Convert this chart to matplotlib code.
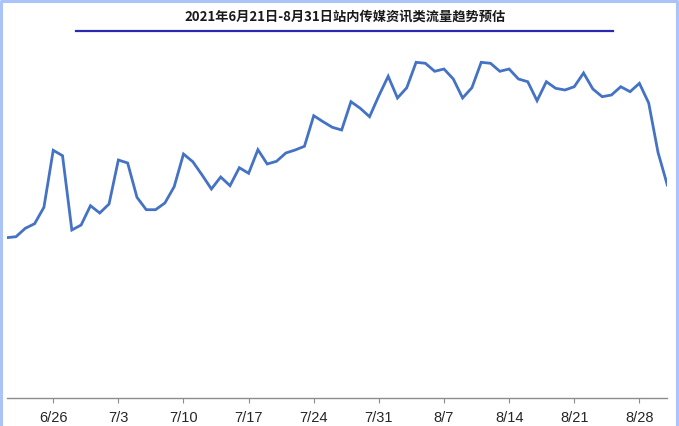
import pandas as pd
import matplotlib.pyplot as plt
from matplotlib.lines import Line2D

plt.rcParams['font.family'] = ['Liberation Sans', 'DejaVu Sans']

# daily traffic estimate, 6/21 .. 8/31 (arbitrary units)
dates = pd.date_range("2021-06-21", "2021-08-31", freq="D")
traffic = [
    160.3, 161.3, 169.7, 174.3, 190.7, 247.7, 242.3, 168.0, 173.0, 192.3,
    185.0, 194.0, 238.0, 235.0, 200.7, 188.3, 188.3, 195.0, 211.3, 244.0,
    236.3, 223.0, 209.0, 221.0, 212.3, 230.3, 224.7, 248.3, 234.0, 236.7,
    245.0, 248.0, 251.7, 282.3, 276.3, 270.7, 268.0, 296.3, 289.7, 281.3,
    302.3, 321.7, 300.0, 310.3, 335.7, 334.7, 326.7, 329.0, 319.0, 300.0,
    310.3, 335.7, 334.7, 326.7, 329.0, 319.0, 316.3, 297.3, 316.3, 309.7,
    308.0, 311.3, 325.0, 309.0, 301.3, 303.0, 311.3, 306.3, 314.7, 295.0,
    245.7, 213.0,
]
tick_labels = ["6/26", "7/3", "7/10", "7/17", "7/24", "7/31", "8/7", "8/14", "8/21", "8/28"]
title = "2021年6月21日-8月31日站内传媒资讯类流量趋势预估"

day_labels = [f"{d.month}/{d.day}" for d in dates]
x = list(range(len(dates)))
tick_pos = [day_labels.index(t) for t in tick_labels]

W, H = 679, 427
fig = plt.figure(figsize=(W / 100, H / 100), dpi=100)
ax = fig.add_axes([6.7 / W, (H - 399) / H, (667.3 - 6.7) / W, 350 / H])

ax.plot(x, traffic, color="#4472c4", linewidth=2.0, solid_joinstyle="miter")
ax.set_xlim(0, len(dates) - 1)
ax.set_ylim(0, 350)

for side in ["top", "right", "left"]:
    ax.spines[side].set_visible(False)
ax.spines["bottom"].set_color("#8c8c8c")
ax.spines["bottom"].set_linewidth(1.0)
ax.set_yticks([])
ax.set_xticks(tick_pos)
ax.set_xticklabels(tick_labels, fontsize=10.5, color="#262626")
ax.tick_params(axis="x", direction="out", length=3.5, width=0.8, color="#8c8c8c", pad=5)

# title and the dark rule under it
fig.text(345 / W, 1 - 17 / H, title, ha="center", va="center", fontsize=9.5,
         fontweight="bold", family=["Noto Sans CJK SC", "DejaVu Sans"], color="#1a1a1a")
fig.add_artist(Line2D([76 / W, 613 / W], [1 - 32.3 / H] * 2, transform=fig.transFigure,
                      color="#2a2ab0", linewidth=1.6))

# light blue frame (top, left, right)
frame = "#aac4fa"
fig.add_artist(Line2D([1 / W, 1 / W, 676.5 / W, 676.5 / W], [0, 1 - 1.5 / H, 1 - 1.5 / H, 0],
                      transform=fig.transFigure, color=frame, linewidth=2.2))

fig.savefig("out.png", dpi=100)
